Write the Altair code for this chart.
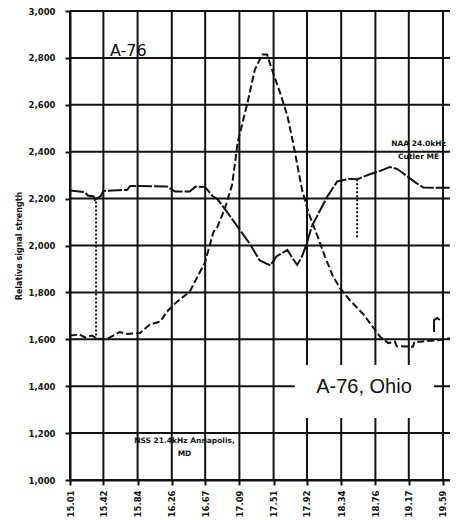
import altair as alt
import pandas as pd

# ---- axis ticks ----
x_ticks = [15.01, 15.42, 15.84, 16.26, 16.67, 17.09, 17.51, 17.92, 18.34, 18.76, 19.17, 19.59]
y_ticks = [1000, 1200, 1400, 1600, 1800, 2000, 2200, 2400, 2600, 2800, 3000]

# ---- NAA 24.0kHz Cutler ME (upper trace) ----
naa_x = [15.01, 15.19, 15.23, 15.30, 15.32, 15.34, 15.39, 15.42, 15.71, 15.75,
         16.20, 16.30, 16.48, 16.55, 16.67, 16.76, 16.82, 16.91, 17.07, 17.22, 17.34,
         17.47, 17.55, 17.68, 17.74, 17.80, 17.86, 17.92, 17.98, 18.17, 18.29, 18.45,
         18.53, 18.54, 18.70, 18.82, 18.94, 19.03, 19.15, 19.25, 19.35, 19.56, 19.68]
naa_y = [2235, 2228, 2213, 2209, 2190, 2200, 2212, 2233, 2237, 2254,
         2252, 2230, 2230, 2251, 2249, 2211, 2198, 2156, 2079, 2006, 1936,
         1915, 1955, 1981, 1947, 1917, 1955, 2011, 2083, 2209, 2273, 2285,
         2283, 2283, 2305, 2318, 2335, 2326, 2295, 2269, 2247, 2246, 2246]

# NAA signal dropouts (dotted drops)
drop_x = [15.33, 18.535]
drop_top = [2205, 2283]
drop_bottom = [1600, 2030]

# ---- A-76 (peaked trace) ----
a76_x = [15.01, 15.13, 15.19, 15.28, 15.34, 15.46, 15.53, 15.62, 15.71, 15.87, 15.99,
         16.12, 16.20, 16.30, 16.36, 16.48, 16.67, 16.77, 16.82, 16.91, 17.00, 17.07,
         17.19, 17.28, 17.37, 17.43, 17.49, 17.59, 17.68, 17.75, 17.86, 17.94, 18.05,
         18.14, 18.24, 18.33, 18.45, 18.61, 18.73, 18.82, 18.92, 19.00, 19.02, 19.22,
         19.24, 19.31, 19.56, 19.68]
a76_y = [1616, 1620, 1608, 1616, 1603, 1601, 1614, 1631, 1623, 1627, 1663,
         1676, 1718, 1753, 1770, 1803, 1930, 2057, 2079, 2156, 2258, 2441,
         2610, 2750, 2814, 2814, 2750, 2651, 2552, 2437, 2237, 2138, 2039,
         1953, 1868, 1816, 1765, 1708, 1652, 1610, 1584, 1590, 1571, 1568,
         1590, 1590, 1597, 1605]

# ---- NSS 21.4kHz Annapolis MD (small fragment at right) ----
nss_x = [19.48, 19.48, 19.52, 19.55]
nss_y = [1631, 1682, 1691, 1682]

# ---- annotations ----
top_label = ["A-76"]
top_x, top_y = [15.50], [2810]
ohio_label = ["A-76, Ohio"]
ohio_x, ohio_y = [18.62], [1370]

small_text = ["NAA 24.0kHz\nCutler ME", "NSS 21.4kHz Annapolis,\nMD"]
small_x = [19.29, 16.416]
small_y = [2448, 1182]

box_x, box_x2, box_y, box_y2 = [17.77], [19.48], [1264], [1490]

X_DOMAIN = [15.01, 19.676]
Y_DOMAIN = [1000, 3000]

rows = []
for name, xs_, ys_ in [("A-76", a76_x, a76_y), ("NAA", naa_x, naa_y), ("NSS", nss_x, nss_y)]:
    for i, (a, b) in enumerate(zip(xs_, ys_)):
        rows.append({"series": name, "x": a, "y": b, "i": i})
df = pd.DataFrame(rows)

xs = alt.Scale(domain=X_DOMAIN, nice=False, zero=False)
ys = alt.Scale(domain=Y_DOMAIN, nice=False, zero=False)

x_axis = alt.Axis(values=x_ticks, format=".2f", labelAngle=270, grid=False,
                  domainColor="#111", domainWidth=2,
                  tickColor="#111", tickWidth=2, tickSize=5, labelPadding=5,
                  labelFont="DejaVu Sans", labelFontWeight="bold", labelFontSize=8.5,
                  labelColor="#111", labelFlush=False, labelOverlap=False)
y_axis = alt.Axis(values=y_ticks, format=",.0f", grid=False,
                  domainColor="#111", domainWidth=2, tickColor="#111", tickWidth=2,
                  tickSize=5, labelPadding=10, labelFont="DejaVu Sans",
                  labelFontWeight="bold", labelFontSize=8.5, labelColor="#111",
                  title="Relative signal strength", titleFont="DejaVu Sans",
                  titleFontWeight="bold", titleFontSize=8, titleColor="#111",
                  titlePadding=5, labelFlush=False, labelOverlap=False)

X = lambda f="x:Q": alt.X(f, scale=xs, axis=x_axis, title=None)
Y = lambda f="y:Q": alt.Y(f, scale=ys, axis=y_axis)

# grid lines drawn from the tick arrays
vgrid = alt.Chart(pd.DataFrame({"x": x_ticks})).mark_rule(color="#111", strokeWidth=2).encode(x=X())
hgrid = alt.Chart(pd.DataFrame({"y": y_ticks})).mark_rule(color="#111", strokeWidth=2).encode(y=Y())

box = alt.Chart(pd.DataFrame({"x": box_x, "x2": box_x2, "y": box_y, "y2": box_y2})).mark_rect(
    color="white").encode(x=X(), x2="x2:Q", y=Y(), y2="y2:Q")

base = alt.Chart(df)

def line(name, dash):
    kw = dict(color="#111", strokeWidth=2)
    if dash:
        kw["strokeDash"] = dash
    return base.transform_filter(alt.datum.series == name).mark_line(**kw).encode(
        x=X(), y=Y(), order="i:Q")

a76 = line("A-76", [7, 3])
naa = line("NAA", [14, 2])
nss = line("NSS", None)

drops = alt.Chart(pd.DataFrame({"x": drop_x, "y": drop_top, "y2": drop_bottom})).mark_rule(
    color="#111", strokeWidth=2, strokeDash=[2, 2]).encode(x=X(), y=Y(), y2="y2:Q")

top = alt.Chart(pd.DataFrame({"t": top_label, "x": top_x, "y": top_y})).mark_text(
    align="left", baseline="alphabetic", font="DejaVu Sans", fontSize=16, color="#111").encode(
    x=X(), y=Y(), text="t:N")
ohio = alt.Chart(pd.DataFrame({"t": ohio_label, "x": ohio_x, "y": ohio_y})).mark_text(
    align="center", baseline="alphabetic", font="Liberation Sans", fontSize=20, color="#111").encode(
    x=X(), y=Y(), text="t:N")

small = alt.Chart(pd.DataFrame({"t": small_text, "x": small_x, "y": small_y})).mark_text(
    align="center", baseline="top", font="DejaVu Sans", fontWeight="bold", fontSize=7.5,
    lineBreak="\n", lineHeight=13, color="#111").encode(
    x=X(), y=Y(), text="t:N")

chart = alt.layer(vgrid, hgrid, box, a76, naa, drops, nss, top, ohio, small).properties(
    width=380, height=469,
    padding={"left": 62, "top": 3, "right": 0, "bottom": 37},
    autosize=alt.AutoSizeParams(type="none"),
    background="white",
).configure_view(strokeWidth=0)

chart.save("out.html", embed_options={"renderer": "svg", "actions": False})
